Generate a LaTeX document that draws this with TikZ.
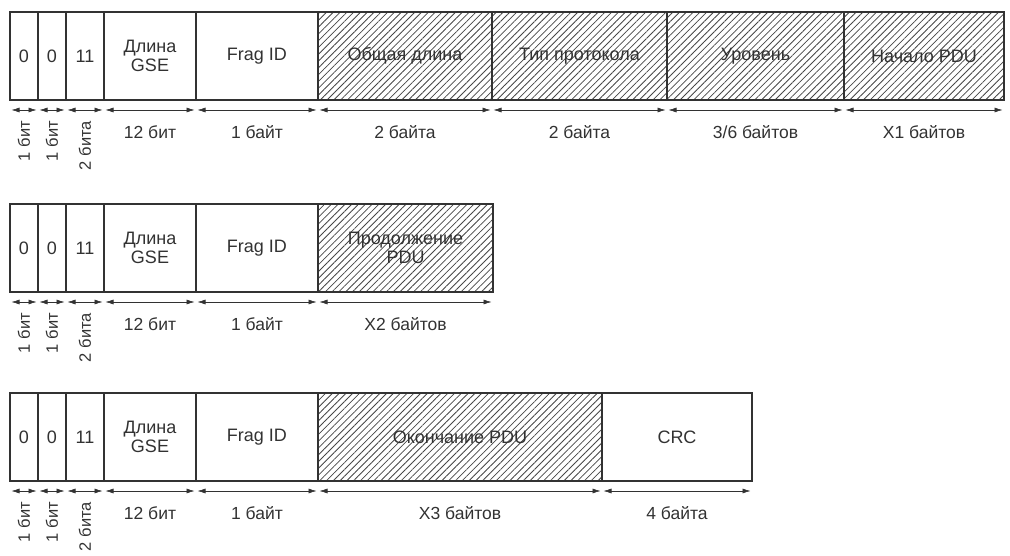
\documentclass[tikz,border=0pt]{standalone}
\usepackage{fontspec}
\setmainfont{Liberation Sans}
\usetikzlibrary{arrows.meta, patterns.meta}
\definecolor{myInk}{RGB}{50,50,50}
\definecolor{myHatch}{RGB}{70,70,70}

\begin{document}
\begin{tikzpicture}[
  x=1pt, y=-1pt,
  fld/.style={draw=myInk, line width=1.2pt, minimum height=88pt, inner sep=0pt,
    outer sep=0pt, anchor=north west, align=center, text=myInk,
    font=\fontsize{18}{19}\selectfont},
  hatch/.style={fld, pattern={Lines[angle=45, distance=4.8pt, line width=0.8pt]},
    pattern color=myHatch},
  dim/.style={{Latex[length=8pt,width=5pt]}-{Latex[length=8pt,width=5pt]},
    draw=myInk, line width=0.6pt, shorten <=1.5pt, shorten >=1.5pt},
  lbl/.style={text=myInk, inner sep=0pt, font=\fontsize{17.5}{19}\selectfont},
  vlbl/.style={lbl, rotate=90, anchor=east, font=\fontsize{16.5}{18}\selectfont},
]
  \useasboundingbox (0,0) rectangle (1010,556);

  % first fragment
  \node[fld, minimum width=28pt] (r1a) at (10,12) {0};
  \node[fld, minimum width=28pt] (r1b) at (38,12) {0};
  \node[fld, minimum width=38pt] (r1c) at (66,12) {11};
  \node[fld, minimum width=92pt] (r1d) at (104,12) {Длина\\GSE};
  \node[fld, minimum width=122pt] (r1e) at (196,12) {Frag ID};
  \node[hatch, minimum width=174pt] (r1f) at (318,12) {Общая длина};
  \node[hatch, minimum width=175pt] (r1g) at (492,12) {Тип протокола};
  \node[hatch, minimum width=177pt] (r1h) at (667,12) {Уровень};
  \node[hatch, minimum width=160pt] (r1i) at (844,12) {Начало PDU};

  % middle fragment
  \node[fld, minimum width=28pt] (r2a) at (10,204) {0};
  \node[fld, minimum width=28pt] (r2b) at (38,204) {0};
  \node[fld, minimum width=38pt] (r2c) at (66,204) {11};
  \node[fld, minimum width=92pt] (r2d) at (104,204) {Длина\\GSE};
  \node[fld, minimum width=122pt] (r2e) at (196,204) {Frag ID};
  \node[hatch, minimum width=175pt] (r2f) at (318,204) {Продолжение\\PDU};

  % last fragment
  \node[fld, minimum width=28pt] (r3a) at (10,393) {0};
  \node[fld, minimum width=28pt] (r3b) at (38,393) {0};
  \node[fld, minimum width=38pt] (r3c) at (66,393) {11};
  \node[fld, minimum width=92pt] (r3d) at (104,393) {Длина\\GSE};
  \node[fld, minimum width=122pt] (r3e) at (196,393) {Frag ID};
  \node[hatch, minimum width=284pt] (r3f) at (318,393) {Окончание PDU};
  \node[fld, minimum width=150pt] (r3g) at (602,393) {CRC};

  % size arrows
  \foreach \f in {r1a,r1b,r1c,r1d,r1e,r1f,r1g,r1h,r1i,
                  r2a,r2b,r2c,r2d,r2e,r2f,
                  r3a,r3b,r3c,r3d,r3e,r3f,r3g}
    \draw[dim] ([yshift=-10pt]\f.south west) -- ([yshift=-10pt]\f.south east);

  % bit sizes, set upright
  \foreach \f/\t in {r1a/{1 бит},r1b/{1 бит},r1c/{2 бита},
                     r2a/{1 бит},r2b/{1 бит},r2c/{2 бита},
                     r3a/{1 бит},r3b/{1 бит},r3c/{2 бита}}
    \node[vlbl] (\f-s) at ([yshift=-21pt]\f.south) {\t};

  % byte sizes
  \foreach \f/\t in {r1d/{12 бит},r1e/{1 байт},r1f/{2 байта},r1g/{2 байта},
                     r1h/{3/6 байтов},r1i/{X1 байтов},
                     r2d/{12 бит},r2e/{1 байт},r2f/{X2 байтов},
                     r3d/{12 бит},r3e/{1 байт},r3f/{X3 байтов},r3g/{4 байта}}
    \node[lbl] (\f-s) at ([yshift=-32pt]\f.south) {\t};
\end{tikzpicture}
\end{document}
